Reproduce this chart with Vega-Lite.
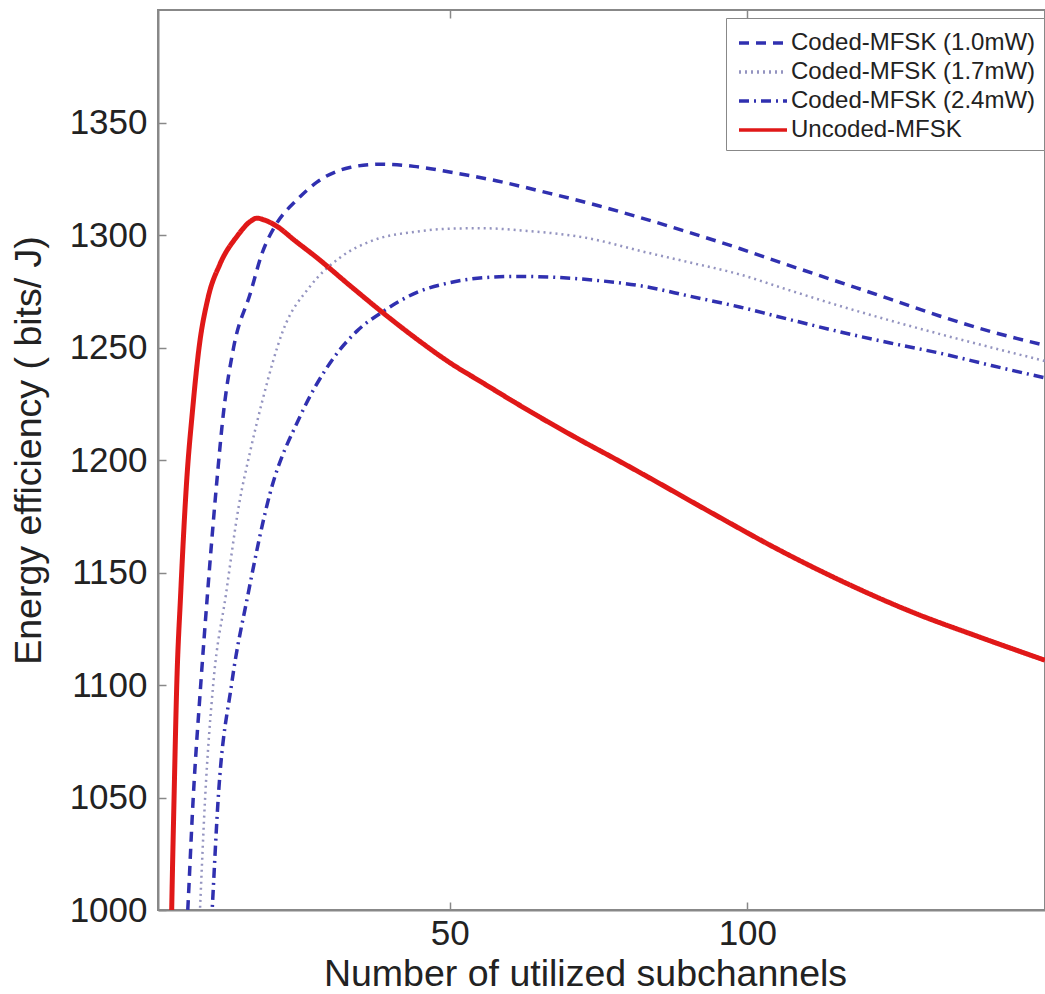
{
  "$schema": "https://vega.github.io/schema/vega-lite/v6.json",
  "width": 887,
  "height": 900,
  "autosize": {"type": "none"},
  "padding": {"left": 158, "top": 10, "right": 0, "bottom": 84},
  "background": "white",
  "config": {
    "view": {"stroke": "#888888", "strokeWidth": 2},
    "axis": {
      "domainColor": "#888888", "domainWidth": 2,
      "tickColor": "#888888", "tickWidth": 1.5, "tickSize": -8,
      "labelFont": "Liberation Sans", "labelFontSize": 35, "labelColor": "#222222",
      "titleFont": "Liberation Sans", "titleFontSize": 37.5, "titleFontWeight": "normal", "titleColor": "#222222",
      "grid": false
    }
  },
  "data": {"values": [
    {"n": 5.7, "ee": 985, "s": "Coded-MFSK (1.0mW)"},
    {"n": 6.0, "ee": 1000, "s": "Coded-MFSK (1.0mW)"},
    {"n": 6.9, "ee": 1049, "s": "Coded-MFSK (1.0mW)"},
    {"n": 8.2, "ee": 1101, "s": "Coded-MFSK (1.0mW)"},
    {"n": 9.3, "ee": 1140, "s": "Coded-MFSK (1.0mW)"},
    {"n": 10.9, "ee": 1191, "s": "Coded-MFSK (1.0mW)"},
    {"n": 12.0, "ee": 1221, "s": "Coded-MFSK (1.0mW)"},
    {"n": 13.7, "ee": 1250, "s": "Coded-MFSK (1.0mW)"},
    {"n": 16.5, "ee": 1274, "s": "Coded-MFSK (1.0mW)"},
    {"n": 18.5, "ee": 1292, "s": "Coded-MFSK (1.0mW)"},
    {"n": 20.9, "ee": 1305, "s": "Coded-MFSK (1.0mW)"},
    {"n": 24.3, "ee": 1315.5, "s": "Coded-MFSK (1.0mW)"},
    {"n": 27.7, "ee": 1323.5, "s": "Coded-MFSK (1.0mW)"},
    {"n": 33.2, "ee": 1330, "s": "Coded-MFSK (1.0mW)"},
    {"n": 38.3, "ee": 1331.5, "s": "Coded-MFSK (1.0mW)"},
    {"n": 44.0, "ee": 1330.5, "s": "Coded-MFSK (1.0mW)"},
    {"n": 50.0, "ee": 1328, "s": "Coded-MFSK (1.0mW)"},
    {"n": 58.0, "ee": 1324, "s": "Coded-MFSK (1.0mW)"},
    {"n": 66.8, "ee": 1318.5, "s": "Coded-MFSK (1.0mW)"},
    {"n": 75.0, "ee": 1313, "s": "Coded-MFSK (1.0mW)"},
    {"n": 83.6, "ee": 1306.5, "s": "Coded-MFSK (1.0mW)"},
    {"n": 91.0, "ee": 1300.5, "s": "Coded-MFSK (1.0mW)"},
    {"n": 98.7, "ee": 1294, "s": "Coded-MFSK (1.0mW)"},
    {"n": 107.0, "ee": 1286.5, "s": "Coded-MFSK (1.0mW)"},
    {"n": 115.5, "ee": 1279, "s": "Coded-MFSK (1.0mW)"},
    {"n": 124.0, "ee": 1271.5, "s": "Coded-MFSK (1.0mW)"},
    {"n": 132.3, "ee": 1264, "s": "Coded-MFSK (1.0mW)"},
    {"n": 141.0, "ee": 1257, "s": "Coded-MFSK (1.0mW)"},
    {"n": 150.0, "ee": 1251, "s": "Coded-MFSK (1.0mW)"},

    {"n": 7.8, "ee": 985, "s": "Coded-MFSK (1.7mW)"},
    {"n": 8.05, "ee": 1000, "s": "Coded-MFSK (1.7mW)"},
    {"n": 8.9, "ee": 1049, "s": "Coded-MFSK (1.7mW)"},
    {"n": 10.3, "ee": 1101, "s": "Coded-MFSK (1.7mW)"},
    {"n": 12.4, "ee": 1140, "s": "Coded-MFSK (1.7mW)"},
    {"n": 14.6, "ee": 1180, "s": "Coded-MFSK (1.7mW)"},
    {"n": 16.5, "ee": 1204, "s": "Coded-MFSK (1.7mW)"},
    {"n": 18.5, "ee": 1226, "s": "Coded-MFSK (1.7mW)"},
    {"n": 22.0, "ee": 1257.5, "s": "Coded-MFSK (1.7mW)"},
    {"n": 26.5, "ee": 1277, "s": "Coded-MFSK (1.7mW)"},
    {"n": 31.6, "ee": 1290, "s": "Coded-MFSK (1.7mW)"},
    {"n": 37.0, "ee": 1297.5, "s": "Coded-MFSK (1.7mW)"},
    {"n": 44.5, "ee": 1301.5, "s": "Coded-MFSK (1.7mW)"},
    {"n": 50.0, "ee": 1302.8, "s": "Coded-MFSK (1.7mW)"},
    {"n": 55.6, "ee": 1303, "s": "Coded-MFSK (1.7mW)"},
    {"n": 63.0, "ee": 1301.8, "s": "Coded-MFSK (1.7mW)"},
    {"n": 72.4, "ee": 1299, "s": "Coded-MFSK (1.7mW)"},
    {"n": 83.0, "ee": 1292.3, "s": "Coded-MFSK (1.7mW)"},
    {"n": 90.0, "ee": 1288, "s": "Coded-MFSK (1.7mW)"},
    {"n": 98.7, "ee": 1282.5, "s": "Coded-MFSK (1.7mW)"},
    {"n": 107.0, "ee": 1275.5, "s": "Coded-MFSK (1.7mW)"},
    {"n": 115.5, "ee": 1268.5, "s": "Coded-MFSK (1.7mW)"},
    {"n": 124.0, "ee": 1262, "s": "Coded-MFSK (1.7mW)"},
    {"n": 132.3, "ee": 1256, "s": "Coded-MFSK (1.7mW)"},
    {"n": 141.0, "ee": 1250, "s": "Coded-MFSK (1.7mW)"},
    {"n": 150.0, "ee": 1244, "s": "Coded-MFSK (1.7mW)"},

    {"n": 9.8, "ee": 985, "s": "Coded-MFSK (2.4mW)"},
    {"n": 10.1, "ee": 1000, "s": "Coded-MFSK (2.4mW)"},
    {"n": 11.1, "ee": 1049, "s": "Coded-MFSK (2.4mW)"},
    {"n": 13.4, "ee": 1101, "s": "Coded-MFSK (2.4mW)"},
    {"n": 16.1, "ee": 1140, "s": "Coded-MFSK (2.4mW)"},
    {"n": 19.8, "ee": 1185, "s": "Coded-MFSK (2.4mW)"},
    {"n": 24.8, "ee": 1219, "s": "Coded-MFSK (2.4mW)"},
    {"n": 30.4, "ee": 1245, "s": "Coded-MFSK (2.4mW)"},
    {"n": 34.5, "ee": 1257.5, "s": "Coded-MFSK (2.4mW)"},
    {"n": 38.8, "ee": 1266, "s": "Coded-MFSK (2.4mW)"},
    {"n": 44.5, "ee": 1274.5, "s": "Coded-MFSK (2.4mW)"},
    {"n": 50.0, "ee": 1278.8, "s": "Coded-MFSK (2.4mW)"},
    {"n": 55.6, "ee": 1281, "s": "Coded-MFSK (2.4mW)"},
    {"n": 61.0, "ee": 1281.6, "s": "Coded-MFSK (2.4mW)"},
    {"n": 66.8, "ee": 1281.3, "s": "Coded-MFSK (2.4mW)"},
    {"n": 74.0, "ee": 1280, "s": "Coded-MFSK (2.4mW)"},
    {"n": 83.0, "ee": 1277, "s": "Coded-MFSK (2.4mW)"},
    {"n": 90.0, "ee": 1273, "s": "Coded-MFSK (2.4mW)"},
    {"n": 98.7, "ee": 1268, "s": "Coded-MFSK (2.4mW)"},
    {"n": 107.0, "ee": 1262.5, "s": "Coded-MFSK (2.4mW)"},
    {"n": 115.5, "ee": 1257, "s": "Coded-MFSK (2.4mW)"},
    {"n": 124.0, "ee": 1252, "s": "Coded-MFSK (2.4mW)"},
    {"n": 132.3, "ee": 1247.5, "s": "Coded-MFSK (2.4mW)"},
    {"n": 141.0, "ee": 1242, "s": "Coded-MFSK (2.4mW)"},
    {"n": 150.0, "ee": 1236.5, "s": "Coded-MFSK (2.4mW)"},

    {"n": 3.2, "ee": 985, "s": "Uncoded-MFSK"},
    {"n": 3.3, "ee": 1000, "s": "Uncoded-MFSK"},
    {"n": 3.7, "ee": 1050, "s": "Uncoded-MFSK"},
    {"n": 4.15, "ee": 1100, "s": "Uncoded-MFSK"},
    {"n": 4.8, "ee": 1140, "s": "Uncoded-MFSK"},
    {"n": 5.8, "ee": 1190, "s": "Uncoded-MFSK"},
    {"n": 6.8, "ee": 1222, "s": "Uncoded-MFSK"},
    {"n": 7.9, "ee": 1250, "s": "Uncoded-MFSK"},
    {"n": 9.4, "ee": 1272, "s": "Uncoded-MFSK"},
    {"n": 11.4, "ee": 1287, "s": "Uncoded-MFSK"},
    {"n": 14.3, "ee": 1299.5, "s": "Uncoded-MFSK"},
    {"n": 16.5, "ee": 1306, "s": "Uncoded-MFSK"},
    {"n": 17.6, "ee": 1307.5, "s": "Uncoded-MFSK"},
    {"n": 18.5, "ee": 1307, "s": "Uncoded-MFSK"},
    {"n": 20.9, "ee": 1304, "s": "Uncoded-MFSK"},
    {"n": 24.0, "ee": 1297.5, "s": "Uncoded-MFSK"},
    {"n": 27.65, "ee": 1290, "s": "Uncoded-MFSK"},
    {"n": 33.25, "ee": 1277.5, "s": "Uncoded-MFSK"},
    {"n": 38.85, "ee": 1265.3, "s": "Uncoded-MFSK"},
    {"n": 44.45, "ee": 1253.8, "s": "Uncoded-MFSK"},
    {"n": 50.0, "ee": 1243.3, "s": "Uncoded-MFSK"},
    {"n": 55.6, "ee": 1234.2, "s": "Uncoded-MFSK"},
    {"n": 61.2, "ee": 1225.2, "s": "Uncoded-MFSK"},
    {"n": 66.8, "ee": 1216.5, "s": "Uncoded-MFSK"},
    {"n": 72.4, "ee": 1208.2, "s": "Uncoded-MFSK"},
    {"n": 78.0, "ee": 1200.2, "s": "Uncoded-MFSK"},
    {"n": 83.2, "ee": 1192.6, "s": "Uncoded-MFSK"},
    {"n": 94.0, "ee": 1176.5, "s": "Uncoded-MFSK"},
    {"n": 105.2, "ee": 1160.2, "s": "Uncoded-MFSK"},
    {"n": 116.4, "ee": 1145.5, "s": "Uncoded-MFSK"},
    {"n": 127.6, "ee": 1132.5, "s": "Uncoded-MFSK"},
    {"n": 138.8, "ee": 1121.5, "s": "Uncoded-MFSK"},
    {"n": 150.0, "ee": 1111, "s": "Uncoded-MFSK"}
  ]},
  "layer": [
    {
      "encoding": {
        "x": {"field": "n", "type": "quantitative",
              "scale": {"domain": [1, 150], "nice": false, "zero": false},
              "axis": {"values": [50, 100], "labelPadding": 14, "title": "Number of utilized subchannels",
                       "titleX": 427, "titleY": 75, "titleAlign": "center", "titleBaseline": "alphabetic", "titleAnchor": null}},
        "y": {"field": "ee", "type": "quantitative",
              "scale": {"domain": [1000, 1400], "nice": false, "zero": false},
              "axis": {"values": [1000, 1050, 1100, 1150, 1200, 1250, 1300, 1350], "format": "d", "labelPadding": 19,
                       "title": "Energy efficiency ( bits/ J)",
                       "titleX": -118, "titleY": 440, "titleAlign": "center", "titleBaseline": "alphabetic", "titleAngle": -90}},
        "color": {"field": "s", "type": "nominal",
                  "scale": {"domain": ["Coded-MFSK (1.0mW)", "Coded-MFSK (1.7mW)", "Coded-MFSK (2.4mW)", "Uncoded-MFSK"],
                            "range": ["#3030b0", "#9494c0", "#3030b0", "#e01818"]},
                  "legend": {"orient": "none", "legendX": 568, "legendY": 8, "title": null,
                             "strokeColor": "#888888", "fillColor": "white", "padding": 8,
                             "symbolType": "M-1.6,0H1.6", "symbolSize": 900, "symbolOffset": 12, "symbolStrokeWidth": 3.5,
                             "labelOffset": 11, "labelFont": "Liberation Sans", "labelFontSize": 24,
                             "labelColor": "#222222", "labelLimit": 400, "rowPadding": 0}},
        "strokeDash": {"field": "s", "type": "nominal",
                  "scale": {"domain": ["Coded-MFSK (1.0mW)", "Coded-MFSK (1.7mW)", "Coded-MFSK (2.4mW)", "Uncoded-MFSK"],
                            "range": [[10, 7], [2, 4], [10, 5, 2, 5], [1, 0]]}}
      },
      "layer": [
        {
          "transform": [{"filter": "datum.s === 'Coded-MFSK (1.0mW)' || datum.s === 'Coded-MFSK (2.4mW)'"}],
          "mark": {"type": "line", "clip": true, "interpolate": "monotone", "strokeWidth": 3.5}
        },
        {
          "transform": [{"filter": "datum.s === 'Coded-MFSK (1.7mW)'"}],
          "mark": {"type": "line", "clip": true, "interpolate": "monotone", "strokeWidth": 2.5}
        },
        {
          "transform": [{"filter": "datum.s === 'Uncoded-MFSK'"}],
          "mark": {"type": "line", "clip": true, "interpolate": "monotone", "strokeWidth": 5}
        }
      ]
    },
    {
      "mark": {"type": "rule", "opacity": 0},
      "encoding": {
        "x": {"field": "n", "type": "quantitative",
              "scale": {"domain": [1, 150], "nice": false, "zero": false},
              "axis": {"orient": "top", "values": [50, 100], "labels": false, "title": null, "domain": false}}
      }
    }
  ],
  "resolve": {"axis": {"x": "independent"}}
}
